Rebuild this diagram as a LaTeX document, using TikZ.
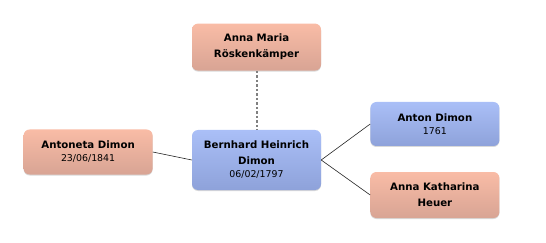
\documentclass[tikz,border=0pt]{standalone}
\usepackage{fontspec}
\setmainfont{DejaVu Sans}
\usepackage{tikz}
\usetikzlibrary{positioning, shadows}
\definecolor{salmontop}{HTML}{F9BCA6}
\definecolor{salmonbot}{HTML}{D8A494}
\definecolor{bluetop}{HTML}{AABFF7}
\definecolor{bluebot}{HTML}{8EA2DA}
\tikzstyle{person} = [rectangle, rounded corners=6pt, minimum width=129pt, minimum height=45pt, align=center, text centered, inner sep=1pt, font=\fontsize{10.2}{16}\selectfont\bfseries, drop shadow={shadow xshift=0pt, shadow yshift=-1pt, opacity=0.25, fill=black!60}]
\tikzstyle{female} = [person, top color=salmontop, bottom color=salmonbot]
\tikzstyle{male} = [person, top color=bluetop, bottom color=bluebot]
\tikzstyle{link} = [black!85, line width=0.6pt]
\newcommand{\bdate}[1]{\\[-3pt]{\fontsize{9.4}{11}\selectfont\mdseries #1}}

\begin{document}
\begin{tikzpicture}[x=1pt, y=1pt]
        \useasboundingbox (0,0) rectangle (546,-243);
        \node (bernhard) [male, minimum height=60pt] at (256.5,-160) {Bernhard Heinrich\\Dimon\bdate{06/02/1797}};
        \node (annamaria) [female, minimum height=47pt, above=59pt of bernhard] {Anna Maria\\Röskenkämper};
        \node (antoneta) [female, left=39pt of bernhard, yshift=8pt] {Antoneta Dimon\bdate{23/06/1841}};
        \node (anton) [male, minimum height=44pt, right=49pt of bernhard, yshift=36pt] {Anton Dimon\bdate{1761}};
        \node (annakath) [female, minimum height=46pt, right=49pt of bernhard, yshift=-35pt] {Anna Katharina\\Heuer};
        
        \draw [dash pattern=on 2.5pt off 2pt, black!50, line width=2pt] (annamaria) -- (bernhard);
        \draw [link] (antoneta.east) -- (bernhard.west);
        \draw [link] (bernhard.east) -- (anton.west);
        \draw [link] (bernhard.east) -- (annakath.west);
    \end{tikzpicture}
\end{document}
